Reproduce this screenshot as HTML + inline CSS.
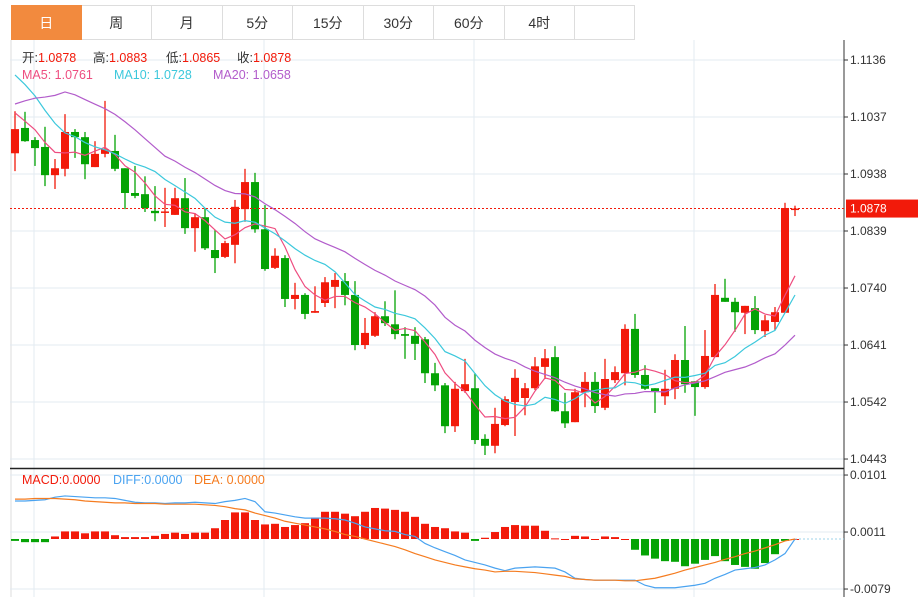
<!DOCTYPE html>
<html><head><meta charset="utf-8">
<style>
body{margin:0;width:918px;height:597px;overflow:hidden;background:#fff;font-family:"Liberation Sans","Noto Sans CJK SC",sans-serif;}
.tabs{position:absolute;left:11px;top:5px;height:35px;display:flex;z-index:5;background:#fff;}
.tab{width:70.5px;height:35px;border:1px solid #ddd;border-left:none;box-sizing:border-box;text-align:center;line-height:34px;font-size:14px;color:#333;}
.tab:first-child{border-left:1px solid #ddd;}
.tab.on{background:#f28a3e;color:#fff;border-color:#f28a3e;}
svg{position:absolute;left:0;top:0;z-index:1;}
</style></head><body>
<svg id="chart" width="918" height="597"></svg>
<div class="tabs">
<div class="tab on">日</div>
<div class="tab">周</div>
<div class="tab">月</div>
<div class="tab">5分</div>
<div class="tab">15分</div>
<div class="tab">30分</div>
<div class="tab">60分</div>
<div class="tab">4时</div>
<div class="tab" style="width:60px"></div>
</div>
<script>
const opens=[1.0974,1.1018,1.0997,1.0985,1.0936,1.0947,1.1011,1.1002,1.0950,1.0973,1.0978,1.0948,1.0905,1.0903,1.0874,1.0871,1.0867,1.0896,1.0844,1.0863,1.0806,1.0794,1.0815,1.0877,1.0924,1.0842,1.0775,1.0792,1.0721,1.0728,1.0697,1.0714,1.0742,1.0752,1.0728,1.0641,1.0657,1.0691,1.0677,1.0660,1.0657,1.0651,1.0592,1.0571,1.0500,1.0561,1.0566,1.0478,1.0466,1.0502,1.0542,1.0549,1.0566,1.0603,1.0620,1.0526,1.0507,1.0559,1.0577,1.0532,1.0580,1.0592,1.0669,1.0589,1.0566,1.0552,1.0565,1.0615,1.0578,1.0568,1.0620,1.0723,1.0716,1.0697,1.0705,1.0665,1.0681,1.0697,1.0878];
const highs=[1.1047,1.1046,1.1002,1.1020,1.0964,1.1042,1.1016,1.1011,1.0995,1.1065,1.1006,1.0948,1.0952,1.0934,1.0917,1.0914,1.0914,1.0931,1.0870,1.0879,1.0841,1.0822,1.0893,1.0947,1.0940,1.0884,1.0809,1.0797,1.0749,1.0731,1.0743,1.0759,1.0766,1.0766,1.0752,1.0688,1.0698,1.0717,1.0736,1.0672,1.0672,1.0655,1.0610,1.0575,1.0577,1.0617,1.0592,1.0486,1.0532,1.0552,1.0599,1.0575,1.0620,1.0634,1.0639,1.0558,1.0565,1.0594,1.0594,1.0617,1.0604,1.0677,1.0695,1.0606,1.0566,1.0598,1.0625,1.0674,1.0578,1.0667,1.0747,1.0756,1.0723,1.0709,1.0726,1.0693,1.0707,1.0888,1.0883];
const lows=[1.0943,1.0994,1.0952,1.0917,1.0912,1.0934,1.0966,1.0929,1.0950,1.0967,1.0943,1.0877,1.0896,1.0872,1.0856,1.0846,1.0867,1.0834,1.0803,1.0806,1.0766,1.0792,1.0783,1.0855,1.0836,1.0770,1.0773,1.0707,1.0703,1.0686,1.0697,1.0707,1.0705,1.0710,1.0632,1.0634,1.0655,1.0674,1.0651,1.0617,1.0615,1.0575,1.0561,1.0488,1.0490,1.0558,1.0469,1.0450,1.0453,1.0500,1.0483,1.0519,1.0563,1.0582,1.0525,1.0497,1.0507,1.0533,1.0523,1.0528,1.0575,1.0571,1.0584,1.0563,1.0523,1.0537,1.0547,1.0558,1.0518,1.0565,1.0620,1.0716,1.0664,1.0660,1.0660,1.0655,1.0667,1.0697,1.0865];
const closes=[1.1016,1.0995,1.0983,1.0936,1.0948,1.1011,1.1002,1.0955,1.0973,1.0981,1.0947,1.0905,1.0900,1.0879,1.0870,1.0873,1.0896,1.0844,1.0863,1.0809,1.0792,1.0818,1.0881,1.0924,1.0842,1.0773,1.0796,1.0721,1.0728,1.0695,1.0700,1.0750,1.0754,1.0728,1.0641,1.0662,1.0691,1.0679,1.0660,1.0657,1.0643,1.0592,1.0571,1.0500,1.0565,1.0573,1.0476,1.0466,1.0504,1.0547,1.0584,1.0566,1.0604,1.0618,1.0526,1.0505,1.0559,1.0577,1.0535,1.0582,1.0594,1.0669,1.0589,1.0565,1.0561,1.0565,1.0615,1.0573,1.0568,1.0622,1.0728,1.0716,1.0698,1.0709,1.0667,1.0684,1.0698,1.0879,1.0878];
const priorCloses=[1.0884,1.0893,1.0896,1.0889,1.0893,1.1101,1.1119,1.1136,1.1136,1.1145,1.1162,1.1179,1.1188,1.1174,1.1176,1.1067,1.1058,1.1046,1.1034];
const diffValues=[0.0060,0.0060,0.0061,0.0062,0.0066,0.0068,0.0067,0.0066,0.0065,0.0065,0.0064,0.0061,0.0058,0.0057,0.0057,0.0056,0.0057,0.0057,0.0058,0.0057,0.0056,0.0059,0.0061,0.0064,0.0059,0.0043,0.0041,0.0038,0.0035,0.0033,0.0033,0.0033,0.0032,0.0030,0.0025,0.0019,0.0016,0.0013,0.0012,0.0007,0.0004,-0.0007,-0.0014,-0.0020,-0.0026,-0.0033,-0.0037,-0.0041,-0.0046,-0.0050,-0.0046,-0.0045,-0.0044,-0.0045,-0.0046,-0.0052,-0.0062,-0.0064,-0.0065,-0.0065,-0.0065,-0.0065,-0.0065,-0.0073,-0.0077,-0.0077,-0.0077,-0.0075,-0.0073,-0.0070,-0.0062,-0.0056,-0.0049,-0.0047,-0.0045,-0.0041,-0.0033,-0.0023,0.0000];
const deaValues=[0.0063,0.0063,0.0064,0.0064,0.0064,0.0063,0.0062,0.0060,0.0059,0.0058,0.0057,0.0057,0.0056,0.0056,0.0056,0.0055,0.0055,0.0055,0.0055,0.0054,0.0053,0.0051,0.0048,0.0046,0.0041,0.0037,0.0033,0.0028,0.0025,0.0022,0.0019,0.0016,0.0012,0.0007,0.0004,0.0000,-0.0004,-0.0008,-0.0012,-0.0017,-0.0023,-0.0028,-0.0033,-0.0037,-0.0041,-0.0044,-0.0047,-0.0049,-0.0052,-0.0051,-0.0051,-0.0052,-0.0053,-0.0055,-0.0057,-0.0059,-0.0063,-0.0064,-0.0065,-0.0065,-0.0065,-0.0066,-0.0066,-0.0064,-0.0062,-0.0058,-0.0054,-0.0049,-0.0045,-0.0041,-0.0037,-0.0032,-0.0028,-0.0023,-0.0019,-0.0014,-0.0009,-0.0003,0.0000];
const macdHist=[-0.0003,-0.0005,-0.0005,-0.0005,0.0004,0.0012,0.0012,0.0009,0.0012,0.0012,0.0006,0.0003,0.0003,0.0003,0.0005,0.0008,0.0010,0.0008,0.0010,0.0010,0.0017,0.0030,0.0042,0.0042,0.0030,0.0023,0.0024,0.0019,0.0022,0.0025,0.0034,0.0043,0.0043,0.0040,0.0036,0.0043,0.0049,0.0048,0.0046,0.0043,0.0035,0.0024,0.0019,0.0017,0.0012,0.0010,-0.0003,0.0002,0.0011,0.0019,0.0022,0.0021,0.0021,0.0013,0.0001,0.0000,0.0005,0.0004,0.0000,0.0004,0.0003,0.0000,-0.0017,-0.0026,-0.0031,-0.0035,-0.0036,-0.0043,-0.0039,-0.0033,-0.0027,-0.0035,-0.0041,-0.0044,-0.0047,-0.0038,-0.0024,-0.0003,0.0000];
const priceTicks=[1.1136,1.1037,1.0938,1.0839,1.0740,1.0641,1.0542,1.0443];
const macdTicks=[0.0101,0.0011,-0.0079];
const lastPrice=1.0878;

const NS="http://www.w3.org/2000/svg";
const svg=document.getElementById('chart');
function mk(tag,attrs,parent){const e=document.createElementNS(NS,tag);for(const k in attrs)e.setAttribute(k,attrs[k]);(parent||svg).appendChild(e);return e;}
const L=10,R=844;
const x=i=>15+10*i;
const y=p=>60+(1.1136-p)*5758;
const my=v=>539-v*6333;
const RED="#f21a0a",GRN="#05a305";

let e;
e=mk('line',{x1:11,y1:40,x2:11,y2:597,stroke:'#ddd'});


[34,264,474,694].forEach(gx=>{
 e=mk('line',{x1:gx,y1:40,x2:gx,y2:597,stroke:'#e3ebf2'});
 
 
});
priceTicks.forEach(t=>{
 e=mk('line',{x1:L,y1:y(t),x2:R,y2:y(t),stroke:'#e3ebf2'});
 
 
 e=mk('line',{x1:R,y1:y(t),x2:R+4,y2:y(t),stroke:'#333'});
 
 
 e=mk('text',{x:R+6,y:y(t)+4,'font-size':12,fill:'#333'});
 e.textContent=t.toFixed(4);
 
 
});
macdTicks.forEach(t=>{
 const ty=my(t);
 e=mk('line',{x1:L,y1:ty,x2:R,y2:ty,stroke:'#e3ebf2'});
 
 
 e=mk('line',{x1:R,y1:ty,x2:R+4,y2:ty,stroke:'#333'});
 
 
 e=mk('text',{x:R+6,y:ty+4,'font-size':12,fill:'#333'});
 e.textContent=t.toFixed(4);
 
 
});
e=mk('line',{x1:R,y1:40,x2:R,y2:597,stroke:'#333'});


e=mk('line',{x1:L,y1:468.5,x2:R,y2:468.5,stroke:'#222','stroke-width':1.5});



closes.forEach((c,i)=>{
 const o=opens[i],up=c>=o,col=up?RED:GRN;
 const g=mk('g',{});
 
 
 mk('line',{x1:x(i),y1:y(highs[i]),x2:x(i),y2:y(lows[i]),stroke:col,'stroke-width':1.3},g);
 const top=y(Math.max(o,c)),h=Math.max(1.5,Math.abs(y(o)-y(c)));
 mk('rect',{x:x(i)-4,y:top,width:8,height:h,fill:col},g);
});

const all=priorCloses.concat(closes);
function ma(n){return closes.map((_,i)=>{const j=i+priorCloses.length;let s=0;for(let k=j-n+1;k<=j;k++)s+=all[k];return s/n;});}
[[5,'#ee4d80','ma5-line'],[10,'#3cc8dc','ma10-line'],[20,'#b25ccb','ma20-line']].forEach(([n,col,name])=>{
 const v=ma(n);
 e=mk('polyline',{points:v.map((p,i)=>x(i)+','+y(p)).join(' '),fill:'none',stroke:col,'stroke-width':1.2});
 
 
});
e=mk('rect',{x:0,y:0,width:918,height:40,fill:'#fff'});



e=mk('line',{x1:L,y1:y(lastPrice),x2:R,y2:y(lastPrice),stroke:RED,'stroke-dasharray':'2,2'});


e=mk('rect',{x:R+2,y:y(lastPrice)-9,width:72,height:18,fill:RED});


e=mk('text',{x:R+6,y:y(lastPrice)+4,'font-size':12,fill:'#fff'});
e.textContent='1.0878';



macdHist.forEach((h,i)=>{
 const yt=Math.min(my(0),my(h)),hh=Math.max(1,Math.abs(my(h)-my(0)));
 e=mk('rect',{x:x(i)-4,y:yt,width:8,height:hh,fill:h>=0?RED:GRN});
 
 
});
e=mk('line',{x1:x(closes.length-1),y1:my(0),x2:R,y2:my(0),stroke:'#9fd3ea','stroke-dasharray':'2,2'});


e=mk('polyline',{points:diffValues.map((v,i)=>x(i)+','+my(v)).join(' '),fill:'none',stroke:'#4aa3f0','stroke-width':1.2});


e=mk('polyline',{points:deaValues.map((v,i)=>x(i)+','+my(v)).join(' '),fill:'none',stroke:'#f57c20','stroke-width':1.2});



function txt(xx,yy,s,col,name){const t=mk('text',{x:xx,y:yy,'font-size':12.5,fill:col});t.textContent=s;return t;}
const ohlc=[['开:','1.0878',22],['高:','1.0883',93],['低:','1.0865',166],['收:','1.0878',237]];
ohlc.forEach(([a,b,xx])=>{txt(xx,62,a,'#333','ohlc-legend-key');txt(xx+16,62,b,RED,'ohlc-legend-value');});
txt(22,79,'MA5: 1.0761','#ee4d80','ma5-legend');
txt(114,79,'MA10: 1.0728','#3cc8dc','ma10-legend');
txt(213,79,'MA20: 1.0658','#b25ccb','ma20-legend');
txt(22,484,'MACD:0.0000',RED,'macd-legend');
txt(113,484,'DIFF:0.0000','#4aa3f0','diff-legend');
txt(194,484,'DEA: 0.0000','#f57c20','dea-legend');
</script>
</body></html>
